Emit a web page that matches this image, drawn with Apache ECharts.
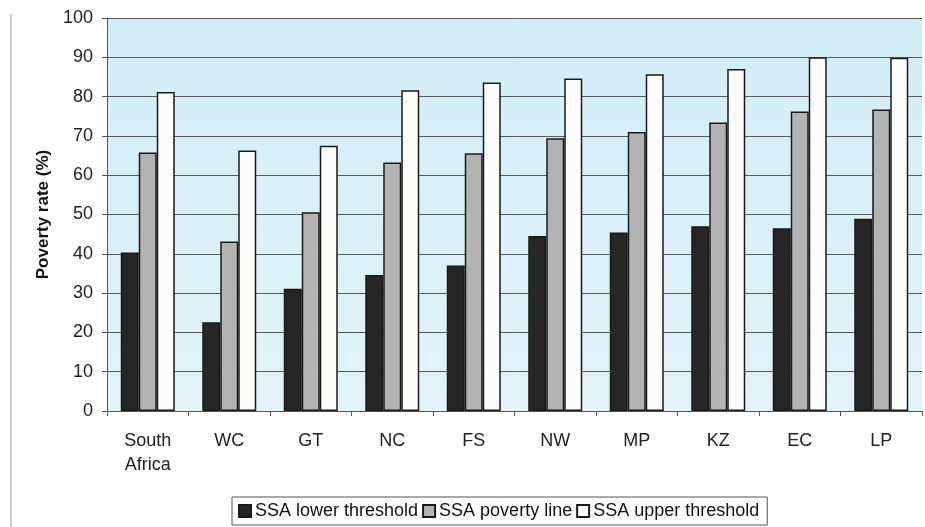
<!DOCTYPE html>
<html>
<head>
<meta charset="utf-8">
<script src="https://cdn.jsdelivr.net/npm/echarts@6/dist/echarts.min.js"></script>
<style>
    html, body { margin: 0; padding: 0; background: #fff; }
    #chart { width: 925px; height: 527px; }
</style>
</head>
<body>
<div id="chart"></div>
<script>
const categories = ['South\nAfrica', 'WC', 'GT', 'NC', 'FS', 'NW', 'MP', 'KZ', 'EC', 'LP'];
const lowerThreshold = [40.3, 22.6, 31.1, 34.6, 37.0, 44.5, 45.4, 47.0, 46.5, 48.9];
const povertyLine = [65.8, 43.1, 50.6, 63.2, 65.6, 69.4, 71.0, 73.4, 76.2, 76.7];
const upperThreshold = [81.2, 66.3, 67.5, 81.6, 83.6, 84.6, 85.7, 87.0, 90.0, 89.9];
const seriesNames = ['SSA lower threshold', 'SSA poverty line', 'SSA upper threshold'];

(function () {
    const chart = echarts.init(document.getElementById('chart'));
    const font = 'Liberation Sans, Arial, sans-serif';

    function bar(name, data, color) {
        return {
            name: name,
            type: 'bar',
            data: data,
            barWidth: 18,
            barGap: '0%',
            itemStyle: {color: color, borderColor: '#1a1a1a', borderWidth: 1.5},
        };
    }

    const option = {
        backgroundColor: '#fff',
        textStyle: {fontFamily: font},
        animation: false,
        grid: {
            left: 107, right: 3, top: 18, bottom: 116,
            show: true,
            borderWidth: 0,
            backgroundColor: new echarts.graphic.LinearGradient(0, 0, 0, 1, [
                {offset: 0, color: '#d2edf8'},
                {offset: 1, color: '#e2f3f9'}
            ])
        },
        legend: {
            left: 232, top: 497,
            padding: [5, 8, 5, 6],
            borderColor: '#555', borderWidth: 1,
            itemWidth: 12, itemHeight: 12, itemGap: 4,
            icon: 'rect',
            textStyle: {fontSize: 18, color: '#111', fontFamily: font, padding: [0, 0, 0, -1]},
            data: seriesNames
        },
        xAxis: {
            type: 'category',
            data: categories,
            axisLine: {lineStyle: {color: '#555', width: 1}},
            axisTick: {show: true, length: 5, lineStyle: {color: '#555'}},
            axisLabel: {fontSize: 18, color: '#222', margin: 18, lineHeight: 24, fontFamily: font}
        },
        yAxis: {
            type: 'value',
            min: 0, max: 100, interval: 10,
            name: 'Poverty rate (%)',
            nameLocation: 'middle',
            nameGap: 52,
            nameTextStyle: {fontSize: 17, fontWeight: 'bold', color: '#111', fontFamily: font},
            axisLine: {show: true, lineStyle: {color: '#555', width: 1}},
            axisTick: {show: true, length: 5, lineStyle: {color: '#555'}},
            axisLabel: {fontSize: 18, color: '#222', margin: 14, fontFamily: font},
            splitLine: {lineStyle: {color: '#5a5a5a', width: 1}}
        },
        graphic: [{
            type: 'line',
            shape: {x1: 11, y1: 14, x2: 11, y2: 527},
            style: {stroke: '#999', lineWidth: 1}
        }],
        series: [
            bar(seriesNames[0], lowerThreshold, '#262626'),
            bar(seriesNames[1], povertyLine, '#b3b3b3'),
            bar(seriesNames[2], upperThreshold, '#fcfcfa')
        ]
    };

    chart.setOption(option);
    window.addEventListener('resize', chart.resize.bind(chart));
})();
</script>
</body>
</html>
